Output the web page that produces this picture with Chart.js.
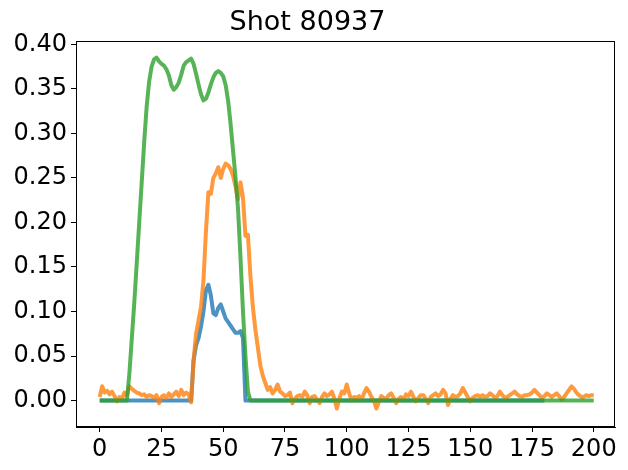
<!DOCTYPE html>
<html>
<head>
<meta charset="utf-8">
<script src="https://cdn.jsdelivr.net/npm/chart.js@4/dist/chart.umd.min.js"></script>
<style>
html,body{margin:0;padding:0;background:#fff;}
#wrap{width:628px;height:470px;}
</style>
</head>
<body>
<div id="wrap"><canvas id="c" width="628" height="470"></canvas></div>
<script>
const titleText = "Shot 80937";
const xTicks = [0, 25, 50, 75, 100, 125, 150, 175, 200];
const yTicks = [0.00, 0.05, 0.10, 0.15, 0.20, 0.25, 0.30, 0.35, 0.40];

const blueValues = [
0,0,0,0,0,0,0,0,0,0, 0,0,0,0,0,0,0,0,0,0,
0,0,0,0,0,0,0,0,0,0, 0,0,0,0,0,0,0,0,0.045,0.062,
0.070,0.083,0.100,0.124,0.130,0.118,0.098,0.096,0.104,0.108,
0.100,0.092,0.088,0.084,0.080,0.076,0.076,0.078,0.070,0,
0,0,0,0,0,0,0,0,0,0, 0,0,0,0,0,0,0,0,0,0,
0,0,0,0,0,0,0,0,0,0, 0,0,0,0,0,0,0,0,0,0,
0,0,0,0,0,0,0,0,0,0, 0,0,0,0,0,0,0,0,0,0,
0,0,0,0,0,0,0,0,0,0, 0,0,0,0,0,0,0,0,0,0,
0,0,0,0,0,0,0,0,0,0, 0,0,0,0,0,0,0,0,0,0,
0,0,0,0,0,0,0,0,0,0, 0,0,0,0,0,0,0,0,0,0,
0
];

const orangeValues = [
0.004,0.016,0.009,0.011,0.007,0.010,0.005,-0.001,0.004,0.002,
0.009,0.006,0.016,0.013,0.011,0.009,0.008,0.006,0.007,0.004,
0.006,0.005,0.003,0.006,-0.003,0.004,0.006,0.003,0.008,0.004,
0.007,0.010,0.005,0.012,0.006,0.009,0.007,-0.002,0.045,0.075,
0.090,0.105,0.135,0.190,0.234,0.232,0.250,0.255,0.262,0.250,
0.260,0.266,0.264,0.260,0.252,0.240,0.226,0.245,0.228,0.185,
0.186,0.140,0.105,0.080,0.060,0.040,0.028,0.020,0.012,0.015,
0.008,0.012,0.018,0.010,0.008,0.005,0.006,0.009,-0.003,0.002,
0.005,0.006,0.004,0.010,0.006,-0.003,0.004,0.005,0.001,-0.003,
0.004,0.008,0.005,0.007,0.010,0.002,-0.009,0.002,0.010,0.008,
0.018,0.008,0.000,0.004,0.003,0.005,0.001,0.008,0.014,0.010,
0.004,0.000,-0.009,-0.002,0.005,0.003,0.002,0.006,0.008,0.003,
-0.003,0.002,0.004,0.001,0.007,0.005,0.010,0.004,-0.001,0.003,
0.006,0.006,0.002,-0.003,0.004,0.006,0.008,0.005,0.007,0.012,
0.008,-0.005,0.002,0.006,0.004,0.005,0.008,0.014,0.009,0.004,
-0.001,0.003,0.005,0.006,0.004,0.006,0.004,0.005,0.008,0.006,
0.003,0.005,0.010,0.006,0.003,0.004,0.006,0.008,0.010,0.007,
0.005,0.004,0.006,0.006,0.007,0.009,0.012,0.009,0.006,0.003,
0.005,0.008,0.006,0.004,0.006,0.008,0.005,0.001,0.004,0.008,
0.012,0.016,0.013,0.009,0.006,0.004,0.004,0.006,0.005,0.006,
0.006
];

const greenValues = [
0,0,0,0,0,0,0,0,0,0, 0,0,0.030,0.070,0.110,0.155,0.200,0.245,0.290,0.330,
0.358,0.375,0.383,0.385,0.381,0.378,0.376,0.372,0.365,0.354,
0.349,0.352,0.357,0.366,0.376,0.380,0.382,0.384,0.378,0.367,
0.355,0.344,0.337,0.339,0.346,0.355,0.363,0.368,0.370,0.368,
0.364,0.354,0.336,0.310,0.280,0.250,0.215,0.160,0.100,0.050,
0.010,0,0,0,0,0,0,0,0,0, 0,0,0,0,0,0,0,0,0,0,
0,0,0,0,0,0,0,0,0,0, 0,0,0,0,0,0,0,0,0,0,
0,0,0,0,0,0,0,0,0,0, 0,0,0,0,0,0,0,0,0,0,
0,0,0,0,0,0,0,0,0,0, 0,0,0,0,0,0,0,0,0,0,
0,0,0,0,0,0,0,0,0,0, 0,0,0,0,0,0,0,0,0,0,
0,0,0,0,0,0,0,0,0,0, 0,0,0,0,0,0,0,0,0,0,
0,0,0,0,0,0,0,0,0,0, 0,0,0,0,0,0,0,0,0,0,
0
];

const toPoints = arr => arr.map((v, i) => ({x: i, y: v}));
const FONT = "'DejaVu Sans', sans-serif";

const boxPlugin = {
  id: 'box',
  afterDatasetsDraw(chart) {
    const a = chart.chartArea, ctx = chart.ctx;
    ctx.save();
    ctx.strokeStyle = '#000';
    ctx.lineWidth = 1;
    ctx.strokeRect(Math.round(a.left) + 0.5, Math.round(a.top) + 0.5,
      Math.round(a.right - a.left) - 1, Math.round(a.bottom - a.top) - 1);
    ctx.restore();
  }
};

new Chart(document.getElementById('c'), {
  type: 'line',
  data: {
    datasets: [
      {data: toPoints(blueValues), borderColor: 'rgba(31,119,180,0.8)', order: 3},
      {data: toPoints(orangeValues), borderColor: 'rgba(255,127,14,0.8)', order: 2},
      {data: toPoints(greenValues), borderColor: 'rgba(44,160,44,0.8)', order: 1}
    ]
  },
  options: {
    responsive: false,
    animation: false,
    devicePixelRatio: 1,
    parsing: true,
    elements: {
      line: {borderWidth: 4, tension: 0, borderCapStyle: 'butt', borderJoinStyle: 'round'},
      point: {radius: 0}
    },
    layout: {padding: {left: 0, right: 13, top: 0, bottom: 0}},
    plugins: {
      legend: {display: false},
      tooltip: {enabled: false},
      title: {
        display: true, text: titleText, color: '#000',
        font: {family: FONT, size: 27, weight: 'normal'},
        padding: {top: 7, bottom: 2}
      }
    },
    scales: {
      x: {
        type: 'linear', min: -9.6, max: 208.6,
        afterBuildTicks: s => { s.ticks = xTicks.map(v => ({value: v})); },
        afterFit: s => { s.height = 43; },
        ticks: {color: '#000', font: {family: FONT, size: 24}, padding: 3, maxRotation: 0,
          callback: v => String(v)},
        grid: {display: true, drawOnChartArea: false, drawTicks: true, tickLength: 5, color: '#000'},
        border: {display: true, color: '#000'}
      },
      y: {
        type: 'linear', min: -0.0297, max: 0.4033,
        afterBuildTicks: s => { s.ticks = yTicks.map(v => ({value: v})); },
        afterFit: s => { s.width = 76; },
        ticks: {color: '#000', font: {family: FONT, size: 24}, padding: 4,
          callback: v => Number(v).toFixed(2)},
        grid: {display: true, drawOnChartArea: false, drawTicks: true, tickLength: 5, color: '#000'},
        border: {display: true, color: '#000'}
      }
    }
  },
  plugins: [boxPlugin]
});
</script>
</body>
</html>
